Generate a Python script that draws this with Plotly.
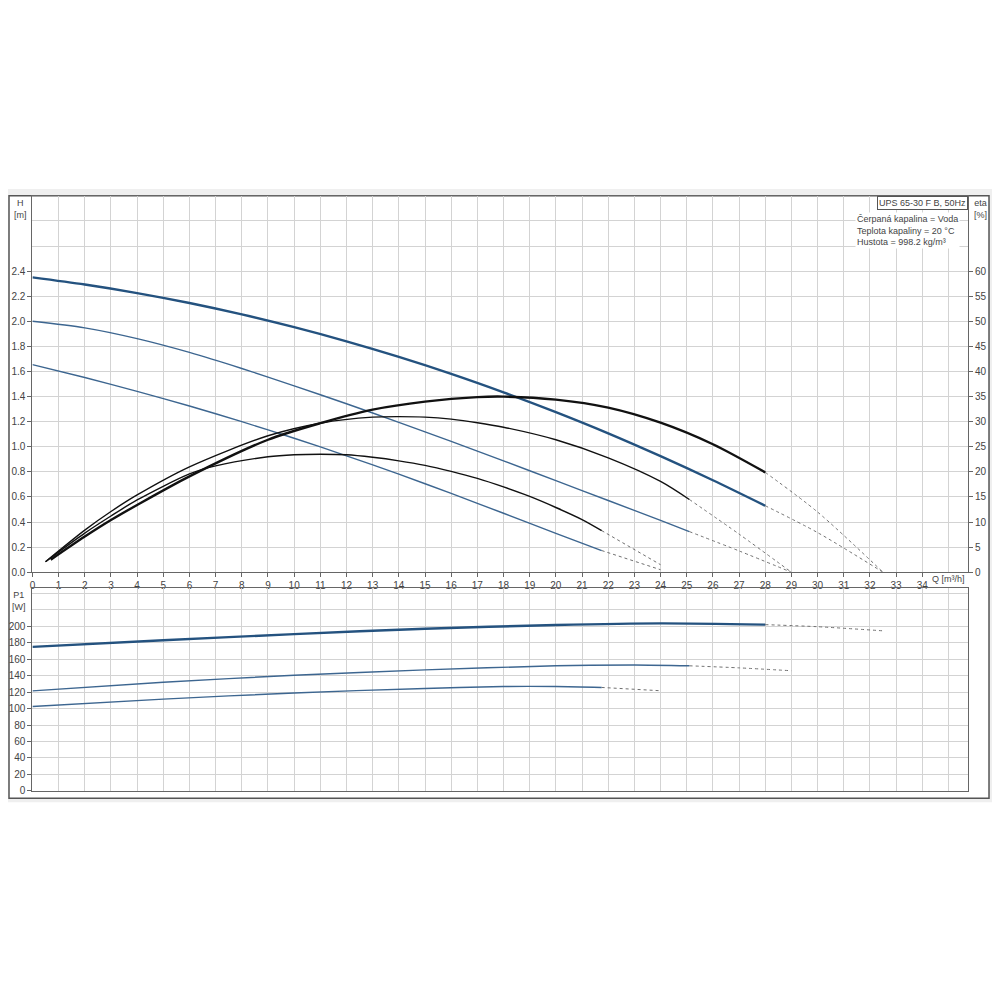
import plotly.graph_objects as go

# head curves H [m] vs flow Q [m3/h], three speeds
q_h1 = [0, 2, 4, 6, 8, 10, 12, 14, 16, 18, 20, 22, 24, 26, 28]
h1 = [2.35, 2.293, 2.225, 2.146, 2.055, 1.953, 1.840, 1.716, 1.581, 1.434, 1.276, 1.107, 0.925, 0.733, 0.530]
q_h1_ext = [28, 30, 32.5]
h1_ext = [0.530, 0.316, 0.0]

q_h2 = [0, 2, 4, 6, 8, 10, 12, 14, 16, 18, 20, 22, 24, 25.1]
h2 = [2.00, 1.948, 1.862, 1.752, 1.624, 1.486, 1.343, 1.195, 1.043, 0.888, 0.73, 0.572, 0.413, 0.324]
q_h2_ext = [25.1, 27, 29]
h2_ext = [0.324, 0.17, 0.0]

q_h3 = [0, 2, 4, 6, 8, 10, 12, 14, 16, 18, 20, 21.75]
h3 = [1.655, 1.552, 1.442, 1.325, 1.200, 1.068, 0.928, 0.782, 0.628, 0.470, 0.310, 0.173]
q_h3_ext = [21.75, 24]
h3_ext = [0.173, 0.02]

# efficiency curves eta [%]
q_eta1 = [0.7, 2, 3, 4, 6, 9, 11, 13, 15, 17, 18, 20, 22, 24, 26, 28]
eta1 = [2.5, 7.1, 10.4, 13.4, 19.1, 26.4, 29.7, 32.4, 34.0, 34.9, 35.0, 34.4, 32.8, 29.8, 25.5, 19.9]
q_eta1_ext = [28, 30, 32.5]
eta1_ext = [19.9, 12.0, 0.0]

q_eta2 = [0.5, 2, 3, 4, 6, 9, 11, 13, 14, 15, 16, 17, 18, 20, 22, 24, 25.1]
eta2 = [2.1, 8.4, 12.1, 15.4, 21.0, 27.2, 29.7, 30.9, 31.0, 30.9, 30.5, 29.8, 28.9, 26.4, 22.8, 18.1, 14.5]
q_eta2_ext = [25.1, 27, 29]
eta2_ext = [14.5, 7.6, 0.0]

q_eta3 = [0.5, 2, 3, 4, 6, 7, 9, 10, 11, 12, 13, 14, 15, 16, 17, 18, 19, 20, 21, 21.75]
eta3 = [2.1, 7.8, 11.2, 14.4, 19.6, 21.2, 23.0, 23.4, 23.5, 23.4, 22.9, 22.2, 21.3, 20.1, 18.7, 17.0, 15.1, 12.9, 10.5, 8.3]
q_eta3_ext = [21.75, 24]
eta3_ext = [8.3, 1.5]

# power input P1 [W]
q_p1 = [0, 5, 10, 15, 20, 24, 28]
p1 = [175, 183, 190.5, 197, 201.5, 203.5, 202]
q_p1_ext = [28, 30, 32.5]
p1_ext = [202, 199.5, 194.5]

q_p2 = [0, 5, 10, 15, 20, 23, 25.1]
p2 = [121.5, 132, 140.5, 147, 152, 153, 152]
q_p2_ext = [25.1, 27, 29]
p2_ext = [152, 149.5, 146]

q_p3 = [0, 5, 10, 15, 18, 20, 21.75]
p3 = [102.5, 111.5, 119, 124.5, 126.8, 126.8, 125.7]
q_p3_ext = [21.75, 24]
p3_ext = [125.7, 121.7]

q_ticks = list(range(0, 35))
h_ticks = [0.0, 0.2, 0.4, 0.6, 0.8, 1.0, 1.2, 1.4, 1.6, 1.8, 2.0, 2.2, 2.4]
eta_ticks = list(range(0, 65, 5))
p_ticks = list(range(0, 220, 20))

info_lines = ["Čerpaná kapalina = Voda", "Teplota kapaliny = 20 °C", "Hustota = 998.2 kg/m³"]

FONT = "Liberation Sans, Arial, sans-serif"
BLUE = "#24527f"
BLUE_THIN = "#3d6690"
BLACK = "#111111"
DOT = "#707070"
GRID = "#d3d3d3"
AXIS = "#666666"

# the page body has an 8px margin, so the figure is 984px and shifted by 8
SIZE = 984
OFF = 8


def px_x(px):
    return (px - OFF) / SIZE


def py(px):
    # pixel row -> paper fraction
    return 1 - (px - OFF) / SIZE


fig = go.Figure()


def add_line(x, y, color, width, xaxis="x", yaxis="y", dash="solid"):
    fig.add_trace(
        go.Scatter(
            x=x,
            y=y,
            mode="lines",
            line=dict(color=color, width=width, shape="spline", smoothing=0.8, dash=dash),
            xaxis=xaxis,
            yaxis=yaxis,
            showlegend=False,
            hoverinfo="skip",
        )
    )


# dotted extensions first so solid lines sit on top
add_line(q_h1_ext, h1_ext, DOT, 1, dash="dot")
add_line(q_h2_ext, h2_ext, DOT, 1, dash="dot")
add_line(q_h3_ext, h3_ext, DOT, 1, dash="dot")
add_line(q_eta1_ext, eta1_ext, DOT, 1, yaxis="y2", dash="dot")
add_line(q_eta2_ext, eta2_ext, DOT, 1, yaxis="y2", dash="dot")
add_line(q_eta3_ext, eta3_ext, DOT, 1, yaxis="y2", dash="dot")
add_line(q_p1_ext, p1_ext, DOT, 1, xaxis="x2", yaxis="y3", dash="dot")
add_line(q_p2_ext, p2_ext, DOT, 1, xaxis="x2", yaxis="y3", dash="dot")
add_line(q_p3_ext, p3_ext, DOT, 1, xaxis="x2", yaxis="y3", dash="dot")

# H curves
add_line(q_h3, h3, BLUE_THIN, 1.4)
add_line(q_h2, h2, BLUE_THIN, 1.4)
add_line(q_h1, h1, BLUE, 2.4)

# eta curves
add_line(q_eta3, eta3, BLACK, 1.4, yaxis="y2")
add_line(q_eta2, eta2, BLACK, 1.4, yaxis="y2")
add_line(q_eta1, eta1, BLACK, 2.4, yaxis="y2")

# P1 curves
add_line(q_p3, p3, BLUE_THIN, 1.4, xaxis="x2", yaxis="y3")
add_line(q_p2, p2, BLUE_THIN, 1.4, xaxis="x2", yaxis="y3")
add_line(q_p1, p1, BLUE, 2.4, xaxis="x2", yaxis="y3")

x_dom = [px_x(29.5), px_x(968)]
tick_font = dict(family=FONT, size=10, color="#444444")

axis_common = dict(
    showline=True,
    linecolor=AXIS,
    linewidth=1,
    mirror=True,
    showgrid=True,
    gridcolor=GRID,
    gridwidth=1,
    zeroline=False,
    tickfont=tick_font,
    tickcolor=AXIS,
)

fig.update_layout(
    width=SIZE,
    height=SIZE,
    autosize=False,
    margin=dict(l=0, r=0, t=0, b=0),
    paper_bgcolor="white",
    plot_bgcolor="white",
    showlegend=False,
    font=dict(family=FONT, size=10, color="#444444"),
    xaxis=dict(
        axis_common,
        domain=x_dom,
        anchor="y",
        range=[0, 35.75],
        tickmode="array",
        tickvals=q_ticks,
        ticktext=[str(v) for v in q_ticks],
        ticks="outside",
        ticklen=4,
        minor=dict(tickvals=[35], showgrid=True, gridcolor=GRID, ticks=""),
    ),
    yaxis=dict(
        axis_common,
        domain=[py(575.7), py(197)],
        anchor="x",
        range=[0, 3.0],
        tickmode="array",
        tickvals=h_ticks,
        ticktext=[f"{v:.1f}" for v in h_ticks],
        ticks="outside",
        ticklen=4,
        minor=dict(tickvals=[2.6, 2.8], showgrid=True, gridcolor=GRID, ticks=""),
    ),
    yaxis2=dict(
        overlaying="y",
        side="right",
        anchor="x",
        range=[0, 75],
        tickmode="array",
        tickvals=eta_ticks,
        ticktext=[str(v) for v in eta_ticks],
        ticks="outside",
        ticklen=4,
        tickcolor=AXIS,
        tickfont=tick_font,
        showgrid=False,
        zeroline=False,
        showline=False,
    ),
    xaxis2=dict(
        axis_common,
        domain=x_dom,
        anchor="y3",
        matches="x",
        range=[0, 35.75],
        tickmode="array",
        tickvals=q_ticks,
        showticklabels=False,
        ticks="",
        minor=dict(tickvals=[35], showgrid=True, gridcolor=GRID, ticks=""),
    ),
    yaxis3=dict(
        axis_common,
        domain=[py(795.7), py(592)],
        anchor="x2",
        range=[0, 246],
        tickmode="array",
        tickvals=p_ticks,
        ticktext=[str(v) for v in p_ticks],
        ticks="outside",
        ticklen=4,
        minor=dict(tickvals=[220, 240], showgrid=True, gridcolor=GRID, ticks=""),
    ),
)

# page background and frame
fig.add_shape(
    type="rect", xref="paper", yref="paper",
    x0=px_x(0), x1=px_x(996), y0=py(807), y1=py(190),
    fillcolor="#efefef", line=dict(width=0), layer="below",
)
fig.add_shape(
    type="rect", xref="paper", yref="paper",
    x0=px_x(6), x1=px_x(989), y0=py(803), y1=py(197),
    fillcolor="white", line=dict(color="#555555", width=1.5), layer="below",
)

small = dict(family=FONT, size=9, color="#444444")

fig.add_annotation(
    x=px_x(18), y=py(197), xref="paper", yref="paper",
    text="H<br>[m]", showarrow=False, xanchor="center", yanchor="top", font=small,
)
fig.add_annotation(
    x=px_x(980), y=py(197), xref="paper", yref="paper",
    text="eta<br>[%]", showarrow=False, xanchor="center", yanchor="top", font=small,
)
fig.add_annotation(
    x=px_x(16), y=py(592), xref="paper", yref="paper",
    text="P1<br>[W]", showarrow=False, xanchor="center", yanchor="top", font=small,
)
fig.add_annotation(
    x=px_x(930), y=py(583), xref="paper", yref="paper",
    text="Q [m³/h]", showarrow=False, xanchor="left", yanchor="middle", font=small,
)
fig.add_annotation(
    x=px_x(968), y=py(197), xref="paper", yref="paper",
    text="UPS 65-30 F B, 50Hz", showarrow=False, xanchor="right", yanchor="top",
    font=small, bgcolor="white", bordercolor="#555555", borderwidth=1, borderpad=1,
)
fig.add_annotation(
    x=px_x(855), y=py(213), xref="paper", yref="paper",
    text="<br>".join(info_lines), showarrow=False, xanchor="left", yanchor="top",
    align="left", font=small, bgcolor="white", borderpad=1,
)

fig.write_html("out.html")
